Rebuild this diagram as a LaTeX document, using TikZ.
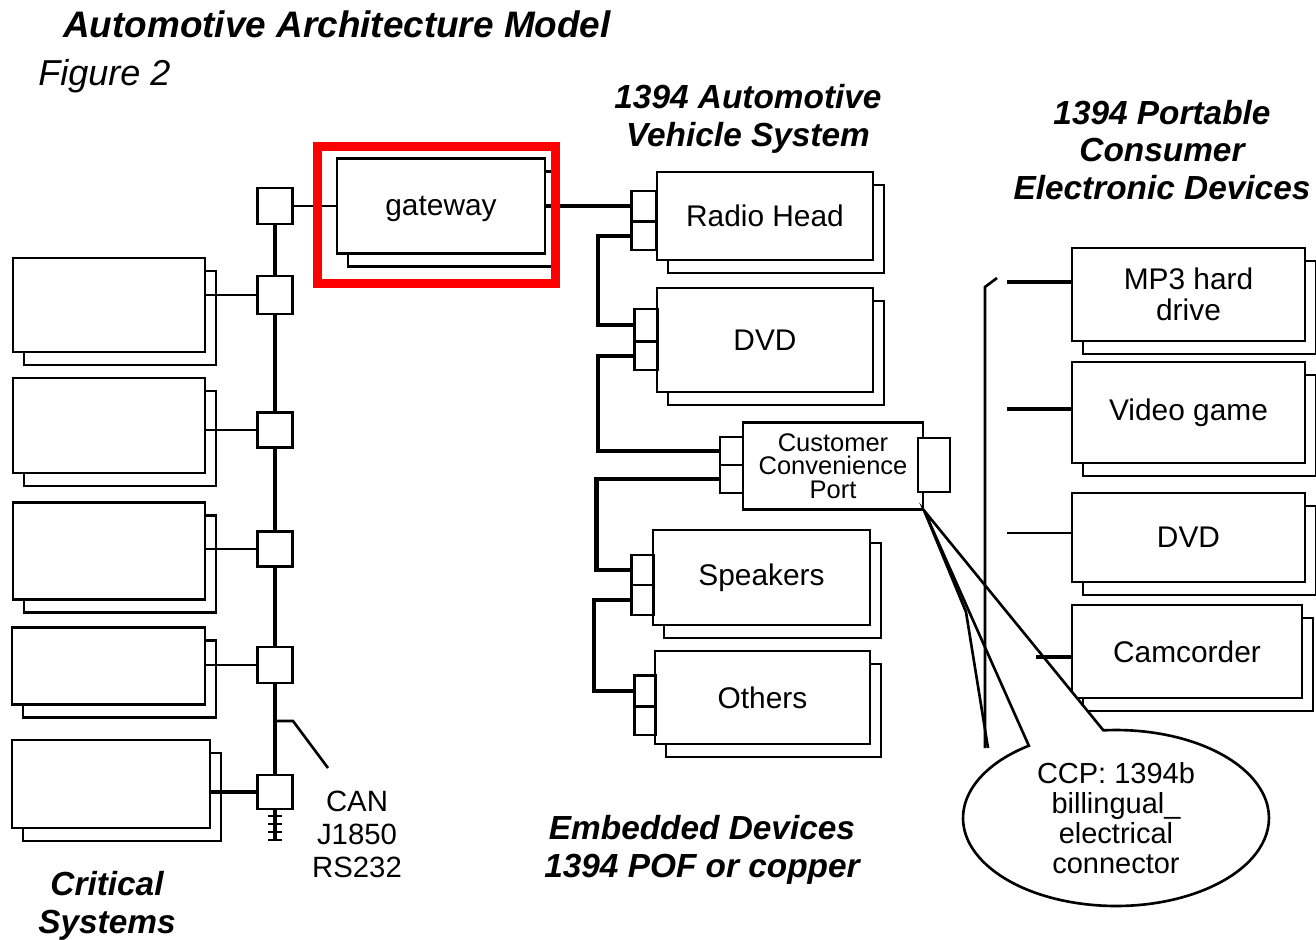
\documentclass[tikz,border=0pt]{standalone}
\usepackage{fontspec}
\setmainfont{Liberation Sans}
\usepackage{xcolor}
\usepackage{tikz}
\usetikzlibrary{shadows,shapes.callouts}
\definecolor{markred}{RGB}{255, 0, 0}
\definecolor{inkblack}{RGB}{0, 0, 0}

\begin{document}
\begin{tikzpicture}[x=0.02cm, y=-0.02cm,
  every node/.style={font=\fontsize{17}{17.5}\selectfont, text=inkblack},
  unit/.style={draw, line width=1.5pt, fill=white, inner sep=0pt, copy shadow={shadow xshift=0.22cm, shadow yshift=-0.26cm}},
  flat/.style={draw, line width=1.5pt, fill=white, inner sep=0pt},
  port/.style={draw, line width=1.5pt, fill=white, inner sep=0pt},
  wire/.style={line width=1.5pt},
  chain/.style={line width=2.6pt},
  bus/.style={line width=2.8pt},
  heading/.style={font=\fontsize{19}{21.5}\selectfont\bfseries\itshape, align=center, inner sep=0pt},
  hilite/.style={draw=markred, line width=5pt}]
  \useasboundingbox (0,0) rectangle (1316,940);

  % titles
  \node[anchor=west, inner sep=0pt, font=\fontsize{21}{22}\selectfont\bfseries\itshape] (title) at (63,24) {Automotive Architecture Model};
  \node[anchor=base west, inner sep=0pt, font=\fontsize{20.5}{22}\selectfont\itshape] (fig) at (38,85) {Figure 2};
  \node[heading] (hdveh) at (748,119) {1394 Automotive\\Vehicle System};
  \node[heading] (hdport) at (1162,150) {1394 Portable\\Consumer\\Electronic Devices};
  \node[heading] (hdcrit) at (107,906) {Critical\\Systems};
  \node[heading] (hdemb) at (702,850) {Embedded Devices\\1394 POF or copper};
  \node[align=center, inner sep=0pt, font=\fontsize{16.7}{18.8}\selectfont] (canlbl) at (357,834) {CAN\\J1850\\RS232};

  % critical systems
  \node[unit, minimum width=3.84cm, minimum height=1.88cm] (crit1) at (109,305) {};
  \node[unit, minimum width=3.84cm, minimum height=1.9cm] (crit2) at (109,425.5) {};
  \node[unit, minimum width=3.84cm, minimum height=1.94cm] (crit3) at (109,551) {};
  \node[unit, minimum width=3.86cm, minimum height=1.54cm] (crit4) at (108.5,666) {};
  \node[unit, minimum width=3.96cm, minimum height=1.76cm] (crit5) at (111,784) {};

  % bus taps
  \node[port, minimum width=0.7cm, minimum height=0.72cm] (b0) at (275,206) {};
  \node[port, minimum width=0.7cm, minimum height=0.76cm] (b1) at (275,295) {};
  \node[port, minimum width=0.7cm, minimum height=0.7cm] (b2) at (275,430) {};
  \node[port, minimum width=0.7cm, minimum height=0.7cm] (b3) at (275,549) {};
  \node[port, minimum width=0.7cm, minimum height=0.72cm] (b4) at (275,665) {};
  \node[port, minimum width=0.7cm, minimum height=0.68cm] (b5) at (275,792) {};
  \coordinate (busend) at (275,840);
  \coordinate (cantap) at (275,721);
  \coordinate (canend) at (328,768);

  \node[unit, minimum width=4.16cm, minimum height=1.9cm, text depth=0pt] (gw) at (441,206) {gateway};

  % vehicle system
  \node[unit, minimum width=4.32cm, minimum height=1.76cm] (rh) at (765,216) {Radio Head};
  \node[port, minimum width=0.5cm, minimum height=0.6cm] (rp1) at (644,206) {};
  \node[port, minimum width=0.5cm, minimum height=0.56cm] (rp2) at (644,236) {};
  \node[unit, minimum width=4.32cm, minimum height=2.08cm] (dvdv) at (765,340) {DVD};
  \node[port, minimum width=0.46cm, minimum height=0.64cm] (dp1) at (646,325) {};
  \node[port, minimum width=0.46cm, minimum height=0.56cm] (dp2) at (646,356) {};
  \node[flat, minimum width=3.6cm, minimum height=1.74cm, align=center, font=\fontsize{14.5}{13.5}\selectfont] (ccp) at (833,466) {Customer\\Convenience\\Port};
  \node[port, minimum width=0.46cm, minimum height=0.56cm] (cp1) at (731.5,451) {};
  \node[port, minimum width=0.46cm, minimum height=0.56cm] (cp2) at (731.5,479) {};
  \node[port, minimum width=0.64cm, minimum height=1.08cm] (cpr) at (934,465) {};
  \node[unit, minimum width=4.34cm, minimum height=1.9cm] (spk) at (761.5,577.5) {Speakers};
  \node[port, minimum width=0.44cm, minimum height=0.6cm] (sp1) at (642.5,570) {};
  \node[port, minimum width=0.44cm, minimum height=0.6cm] (sp2) at (642.5,600) {};
  \node[unit, minimum width=4.3cm, minimum height=1.86cm] (oth) at (762.5,697.5) {Others};
  \node[port, minimum width=0.42cm, minimum height=0.62cm] (op1) at (645,691) {};
  \node[port, minimum width=0.42cm, minimum height=0.56cm] (op2) at (645,721) {};

  % portable devices
  \node[unit, minimum width=4.66cm, minimum height=1.86cm, align=center] (mp3) at (1188.5,294.5) {MP3 hard\\drive};
  \node[unit, minimum width=4.66cm, minimum height=2.02cm] (vg) at (1188.5,412.5) {Video game};
  \node[unit, minimum width=4.66cm, minimum height=1.78cm] (dvdp) at (1188.5,537.5) {DVD};
  \node[unit, minimum width=4.6cm, minimum height=1.86cm] (cam) at (1187,651.5) {Camcorder};
  \coordinate (s1) at (1007,282);
  \coordinate (s2) at (1007,409);
  \coordinate (s3) at (1007,533);
  \coordinate (s4) at (1036,657);
  \coordinate (brtop) at (997,278);
  \coordinate (brbend) at (985,287);
  \coordinate (brbot) at (985,748);
  \coordinate (cabbend) at (966,612);
  \coordinate (cab1) at (988,748);

  \node[ellipse callout, draw, line width=1.5pt, fill=white, minimum width=6.12cm, minimum height=3.52cm,
        callout absolute pointer={(ccp.south east)}, callout pointer arc=30, align=center,
        font=\fontsize{16.5}{17}\selectfont] (conn) at (1116,818) {CCP: 1394b\\billingual\_\\electrical\\connector};

  % bus and taps
  \foreach \a/\b in {b0/b1, b1/b2, b2/b3, b3/b4, b4/b5, b5/busend}
    \draw[bus] (\a) -- (\b);
  \foreach \y in {816,824,832,840}
    \draw[wire] (268,\y) -- (282,\y);
  \draw[wire] (cantap) -- ++(18,0) -- (canend);
  \draw[wire] (b1.west) -- (b1.west -| crit1.east);
  \draw[wire] (b2.west) -- (b2.west -| crit2.east);
  \draw[wire] (b3.west) -- (b3.west -| crit3.east);
  \draw[wire] (b4.west) -- (b4.west -| crit4.east);
  \draw[chain] (b5.west) -- (b5.west -| crit5.east);
  \draw[wire] (b0.east) -- (gw.west);

  % daisy chain
  \draw[chain] (gw.east) -- (rp1.west);
  \draw[chain] (rp2.west) -- ++(-32,0) |- (dp1.west);
  \draw[chain] (dp2.west) -- ++(-35,0) |- (cp1.west);
  \draw[chain] (cp2.west) -- ++(-122,0) |- (sp1.west);
  \draw[chain] (sp2.west) -- ++(-36,0) |- (op1.west);

  % portable side
  \draw[wire] (brtop) -- (brbend) -- (brbot);
  \draw[chain] (s1) -- (s1 -| mp3.west);
  \draw[chain] (s2) -- (s2 -| vg.west);
  \draw[wire] (s3) -- (s3 -| dvdp.west);
  \draw[chain] (s4) -- (s4 -| cam.west);
  \draw[wire] (ccp.south east) -- (cabbend) -- (cab1);

  \node[hilite, minimum width=4.76cm, minimum height=2.74cm] (mark) at (436.5,215) {};
\end{tikzpicture}
\end{document}
